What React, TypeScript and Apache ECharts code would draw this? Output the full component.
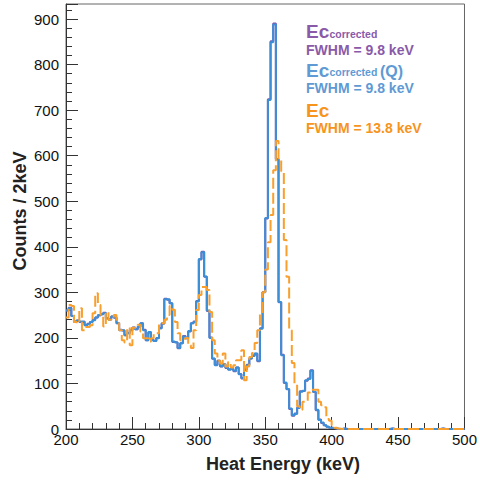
import { useEffect, useRef } from 'react';
import * as echarts from 'echarts';

// Histogram binning (keV)
const BIN_START = 200;
const BIN_WIDTH = 2;

// Axis ranges / ticks
const X_MIN = 200;
const X_MAX = 500;
const X_INTERVAL = 50;
const Y_MIN = 0;
const Y_MAX = 933;
const Y_INTERVAL = 100;

// Counts per 2 keV bin, bins starting at 200 keV
const ecCorrected = [
  260, 266, 248, 236, 238, 235, 236, 228, 231, 235,
  240, 245, 249, 252, 255, 243, 241, 247, 244, 232,
  218, 216, 206, 211, 217, 223, 219, 224, 232, 218,
  195, 212, 196, 193, 200, 221, 231, 286, 284, 276,
  191, 190, 177, 188, 204, 199, 214, 232, 236, 281,
  372, 389, 334, 259, 201, 154, 141, 150, 137, 142,
  134, 131, 132, 127, 135, 121, 111, 130, 141, 155,
  161, 165, 149, 221, 301, 462, 724, 851, 890, 593,
  278, 163, 101, 87, 44, 29, 34, 47, 83, 84,
  106, 111, 129, 81, 41, 21, 13, 8, 5, 3,
  2, 1, 0, 0, 1, 0, 0, 0, 0, 0,
  0, 0, 0, 0, 0, 0, 0, 0, 0, 0,
  0, 0, 1, 0, 0, 0, 0, 0, 0, 0,
  0, 0, 0, 0, 0, 0, 0, 0, 0, 0,
  0, 1, 0, 0, 0, 0, 0, 0, 0, 0,
];

const ecCorrectedQ = [
  260, 265, 248, 235, 238, 236, 235, 228, 230, 235,
  239, 245, 250, 252, 254, 243, 240, 247, 245, 232,
  217, 217, 206, 210, 217, 222, 219, 225, 232, 217,
  195, 213, 195, 193, 199, 221, 232, 285, 285, 276,
  192, 190, 178, 188, 203, 199, 215, 232, 235, 280,
  373, 388, 335, 260, 200, 155, 140, 150, 138, 142,
  135, 130, 132, 128, 135, 120, 112, 130, 140, 155,
  160, 166, 150, 220, 300, 463, 722, 849, 888, 592,
  279, 162, 102, 88, 45, 30, 33, 46, 82, 84,
  107, 110, 128, 82, 42, 20, 14, 8, 5, 3,
  2, 1, 0, 0, 1, 0, 0, 0, 0, 0,
  0, 0, 0, 0, 0, 0, 0, 0, 0, 0,
  0, 0, 1, 0, 0, 0, 0, 0, 0, 0,
  0, 0, 0, 0, 0, 0, 0, 0, 0, 0,
  0, 1, 0, 0, 0, 0, 0, 0, 0, 0,
];

const ec = [
  245, 272, 270, 235, 232, 265, 217, 224, 224, 228,
  254, 298, 272, 250, 225, 257, 240, 245, 250, 240,
  217, 195, 190, 222, 184, 222, 222, 229, 214, 199,
  199, 192, 199, 210, 210, 232, 232, 240, 250, 270,
  262, 235, 210, 195, 198, 200, 184, 178, 217, 261,
  294, 312, 312, 305, 257, 195, 166, 150, 144, 166,
  137, 147, 135, 140, 151, 151, 173, 107, 137, 158,
  167, 189, 217, 254, 300, 350, 410, 470, 568, 632,
  592, 566, 415, 334, 217, 145, 100, 50, 42, 60,
  62, 80, 86, 86, 86, 60, 52, 48, 22, 18,
  8, 3, 1, 0, 0, 0, 0, 0, 0, 0,
  0, 0, 0, 0, 0, 0, 1, 0, 0, 0,
  0, 0, 0, 0, 0, 0, 0, 0, 0, 0,
  0, 0, 0, 0, 0, 0, 0, 0, 1, 0,
  0, 0, 0, 0, 0, 0, 0, 0, 0, 0,
];

const X_TITLE = 'Heat Energy (keV)';
const Y_TITLE = 'Counts / 2keV';
const FWHM_CORRECTED = 'FWHM = 9.8 keV';
const FWHM_CORRECTED_Q = 'FWHM = 9.8 keV';
const FWHM_EC = 'FWHM = 13.8 keV';

const FONT = '"Liberation Sans", Arial, Helvetica, sans-serif';

const PURPLE_LINE = '#7d55ae';
const BLUE_LINE = '#3a8fd6';
const ORANGE_LINE = '#f99f2e';
const PURPLE_TEXT = '#8a5aa9';
const BLUE_TEXT = '#5f9ad4';
const ORANGE_TEXT = '#f7941d';

function toSteps(values: number[]) {
  const pts: number[][] = values.map((v, i) => [BIN_START + i * BIN_WIDTH, v]);
  pts.push([BIN_START + values.length * BIN_WIDTH, values[values.length - 1]]);
  return pts;
}

function txt(text: string, x: number, y: number, size: number, color: string, extra: any = {}) {
  return {
    type: 'text',
    x,
    y,
    style: {
      text,
      fill: color,
      font: `bold ${size}px ${FONT}`,
      verticalAlign: 'middle',
      align: 'left',
      ...extra,
    },
    z: 100,
  };
}

export default function App() {
  const ref = useRef<HTMLDivElement>(null);

  useEffect(() => {
    if (!ref.current) return;
    const chart = echarts.init(ref.current, undefined, { renderer: 'svg' });
    const lineSeries = (name: string, data: number[], color: string, type: any) => ({
      name,
      type: 'line',
      step: 'end',
      data: toSteps(data),
      showSymbol: false,
      symbol: 'none',
      lineStyle: { color, width: 2, type },
      itemStyle: { color },
      clip: true,
    });
    chart.setOption({
      animation: false,
      backgroundColor: '#ffffff',
      textStyle: { fontFamily: FONT },
      grid: {
        left: 66,
        right: 13,
        top: 4,
        bottom: 51,
        show: true,
        borderColor: '#666',
        borderWidth: 1,
        backgroundColor: 'transparent',
      },
      xAxis: {
        type: 'value',
        min: X_MIN,
        max: X_MAX,
        interval: X_INTERVAL,
        axisLine: { show: true, onZero: false, lineStyle: { color: '#333', width: 1 } },
        axisTick: { show: true, inside: true, length: 12, lineStyle: { color: '#333' } },
        minorTick: { show: true, splitNumber: 5, length: 6, lineStyle: { color: '#333' } },
        splitLine: { show: false },
        axisLabel: { color: '#111', fontSize: 15, fontFamily: FONT, margin: 3 },
      },
      yAxis: {
        type: 'value',
        min: Y_MIN,
        max: Y_MAX,
        interval: Y_INTERVAL,
        axisLine: { show: true, lineStyle: { color: '#333', width: 1 } },
        axisTick: { show: true, inside: true, length: 12, lineStyle: { color: '#333' } },
        minorTick: { show: true, splitNumber: 5, length: 6, lineStyle: { color: '#333' } },
        splitLine: { show: false },
        axisLabel: {
          color: '#111',
          fontSize: 15,
          fontFamily: FONT,
          margin: 7,
          formatter: (v: number) => (v % Y_INTERVAL === 0 ? String(v) : ''),
        },
      },
      series: [
        lineSeries('Ec corrected', ecCorrected, PURPLE_LINE, 'solid'),
        lineSeries('Ec corrected (Q)', ecCorrectedQ, BLUE_LINE, 'solid'),
        lineSeries('Ec', ec, ORANGE_LINE, [11, 4]),
      ],
      graphic: [
        txt(Y_TITLE, 20, 211, 18, '#222', { align: 'center' }),
        txt(X_TITLE, 283, 464, 18, '#222', { align: 'center' }),
        txt('Ec', 306, 31.6, 19, PURPLE_TEXT),
        txt('corrected', 329.5, 34, 10.5, PURPLE_TEXT),
        txt(FWHM_CORRECTED, 306, 50.1, 14, PURPLE_TEXT),
        txt('Ec', 306, 70, 19, BLUE_TEXT),
        txt('corrected', 329.5, 72.4, 10.5, BLUE_TEXT),
        txt('(Q)', 380, 71.2, 16, BLUE_TEXT),
        txt(FWHM_CORRECTED_Q, 306, 88.4, 14, BLUE_TEXT),
        txt('Ec', 306, 110, 19, ORANGE_TEXT),
        txt(FWHM_EC, 306, 127.8, 14, ORANGE_TEXT),
      ].map((g: any, i: number) =>
        i === 0 ? { ...g, rotation: Math.PI / 2 } : g
      ),
    });
    return () => chart.dispose();
  }, []);

  return (
    <div
      ref={ref}
      style={{ position: 'fixed', left: 0, top: 0, width: 480, height: 480, background: '#fff' }}
    />
  );
}
